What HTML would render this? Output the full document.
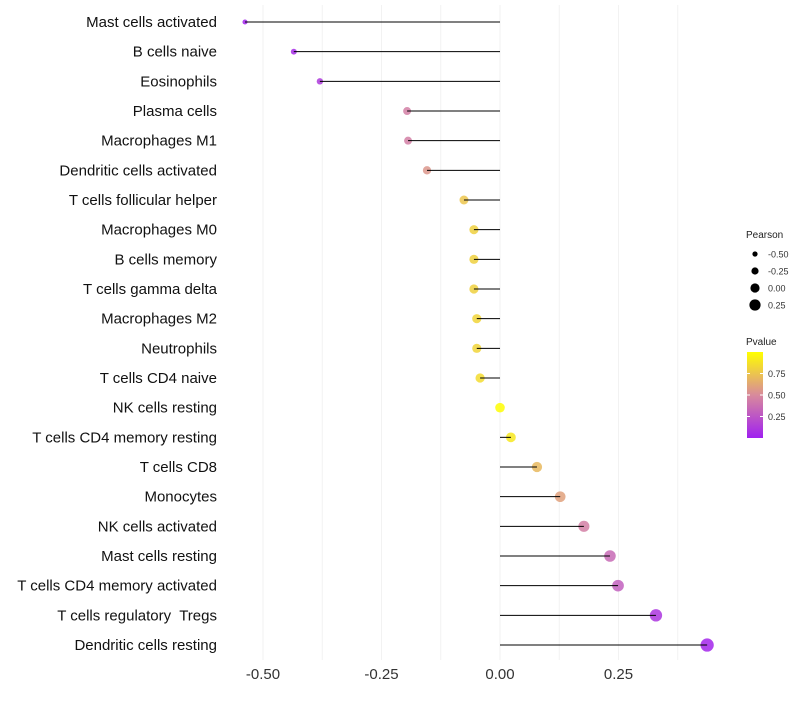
<!DOCTYPE html>
<html><head><meta charset="utf-8"><style>
body{margin:0;background:#fff;font-family:"Liberation Sans",sans-serif;}
text{white-space:pre;}
</style></head><body>
<svg width="800" height="700" xmlns="http://www.w3.org/2000/svg">
<defs><linearGradient id="pg" x1="0" y1="1" x2="0" y2="0">
<stop offset="0" stop-color="#a020f0"/><stop offset="0.5" stop-color="#d88a9c"/><stop offset="1" stop-color="#ffff00"/></linearGradient></defs>
<g id="grid"></g><g id="marks"></g><g id="labels"></g><g id="legend"></g>
</svg>
<script>
const categories=["Mast cells activated","B cells naive","Eosinophils","Plasma cells","Macrophages M1","Dendritic cells activated","T cells follicular helper","Macrophages M0","B cells memory","T cells gamma delta","Macrophages M2","Neutrophils","T cells CD4 naive","NK cells resting","T cells CD4 memory resting","T cells CD8","Monocytes","NK cells activated","Mast cells resting","T cells CD4 memory activated","T cells regulatory  Tregs","Dendritic cells resting"];
const pearson=[-0.538,-0.435,-0.380,-0.196,-0.194,-0.154,-0.076,-0.055,-0.055,-0.055,-0.049,-0.049,-0.042,0.0,0.023,0.078,0.127,0.177,0.232,0.249,0.329,0.437];
const pvalue=[0.02,0.05,0.12,0.45,0.45,0.55,0.75,0.8,0.8,0.8,0.82,0.82,0.85,0.99,0.9,0.7,0.6,0.45,0.35,0.3,0.1,0.03];
const xTicks=[-0.5,-0.25,0,0.25];
const xTickLabels=["-0.50","-0.25","0.00","0.25"];
const NS="http://www.w3.org/2000/svg";
const x=v=>500+v*474;
const y=i=>22+i*29.667;
const rr=v=>Math.max(1.5,4.8+v*4.2);
function lerp(a,b,t){return a.map((c,k)=>Math.round(c+(b[k]-c)*t));}
function col(p){const A=[160,32,240],M=[216,138,156],B=[255,255,0];const c=p<0.5?lerp(A,M,p/0.5):lerp(M,B,(p-0.5)/0.5);return `rgb(${c})`;}
function mk(t,a,parent){const e=document.createElementNS(NS,t);for(const k in a)e.setAttribute(k,a[k]);parent.appendChild(e);return e;}
const grid=document.getElementById('grid'),marks=document.getElementById('marks'),labels=document.getElementById('labels'),leg=document.getElementById('legend');
for(let v=-0.5;v<=0.38;v+=0.125){const g=mk('line',{x1:x(v),x2:x(v),y1:5,y2:660,stroke:'#f2f2f2','stroke-width':1},grid);

}
xTicks.forEach((v,i)=>{const t=mk('text',{x:x(v),y:679,'text-anchor':'middle','font-size':15,fill:'#333'},labels);t.textContent=xTickLabels[i];

});
categories.forEach((c,i)=>{
const t=mk('text',{x:217,y:y(i)+5,'text-anchor':'end','font-size':15,fill:'#111'},labels);t.textContent=c;


const p=mk('circle',{cx:x(pearson[i]),cy:y(i),r:rr(pearson[i]),fill:col(pvalue[i]),'fill-opacity':0.85},marks);


const l=mk('line',{x1:x(0),x2:x(pearson[i]),y1:y(i),y2:y(i),stroke:'#000','stroke-width':1},marks);


});
let t=mk('text',{x:746,y:238,'font-size':10,fill:'#222'},leg);t.textContent='Pearson';

[-0.5,-0.25,0,0.25].forEach((v,i)=>{const cy=254+i*17;const c=mk('circle',{cx:755,cy:cy,r:2.6+i*1,fill:'#000'},leg);

const tt=mk('text',{x:768,y:cy+3.5,'font-size':9,fill:'#333'},leg);tt.textContent=xTickLabels[i];
});
t=mk('text',{x:746,y:345,'font-size':10,fill:'#222'},leg);t.textContent='Pvalue';

const bar=mk('rect',{x:747,y:352,width:16,height:86,fill:'url(#pg)'},leg);

[0.75,0.5,0.25].forEach(v=>{const yy=438-v*86;mk('line',{x1:747,x2:750,y1:yy,y2:yy,stroke:'#fff'},leg);mk('line',{x1:760,x2:763,y1:yy,y2:yy,stroke:'#fff'},leg);
const tt=mk('text',{x:768,y:yy+3.5,'font-size':9,fill:'#333'},leg);tt.textContent=v.toFixed(2);
});
</script>
</body></html>
